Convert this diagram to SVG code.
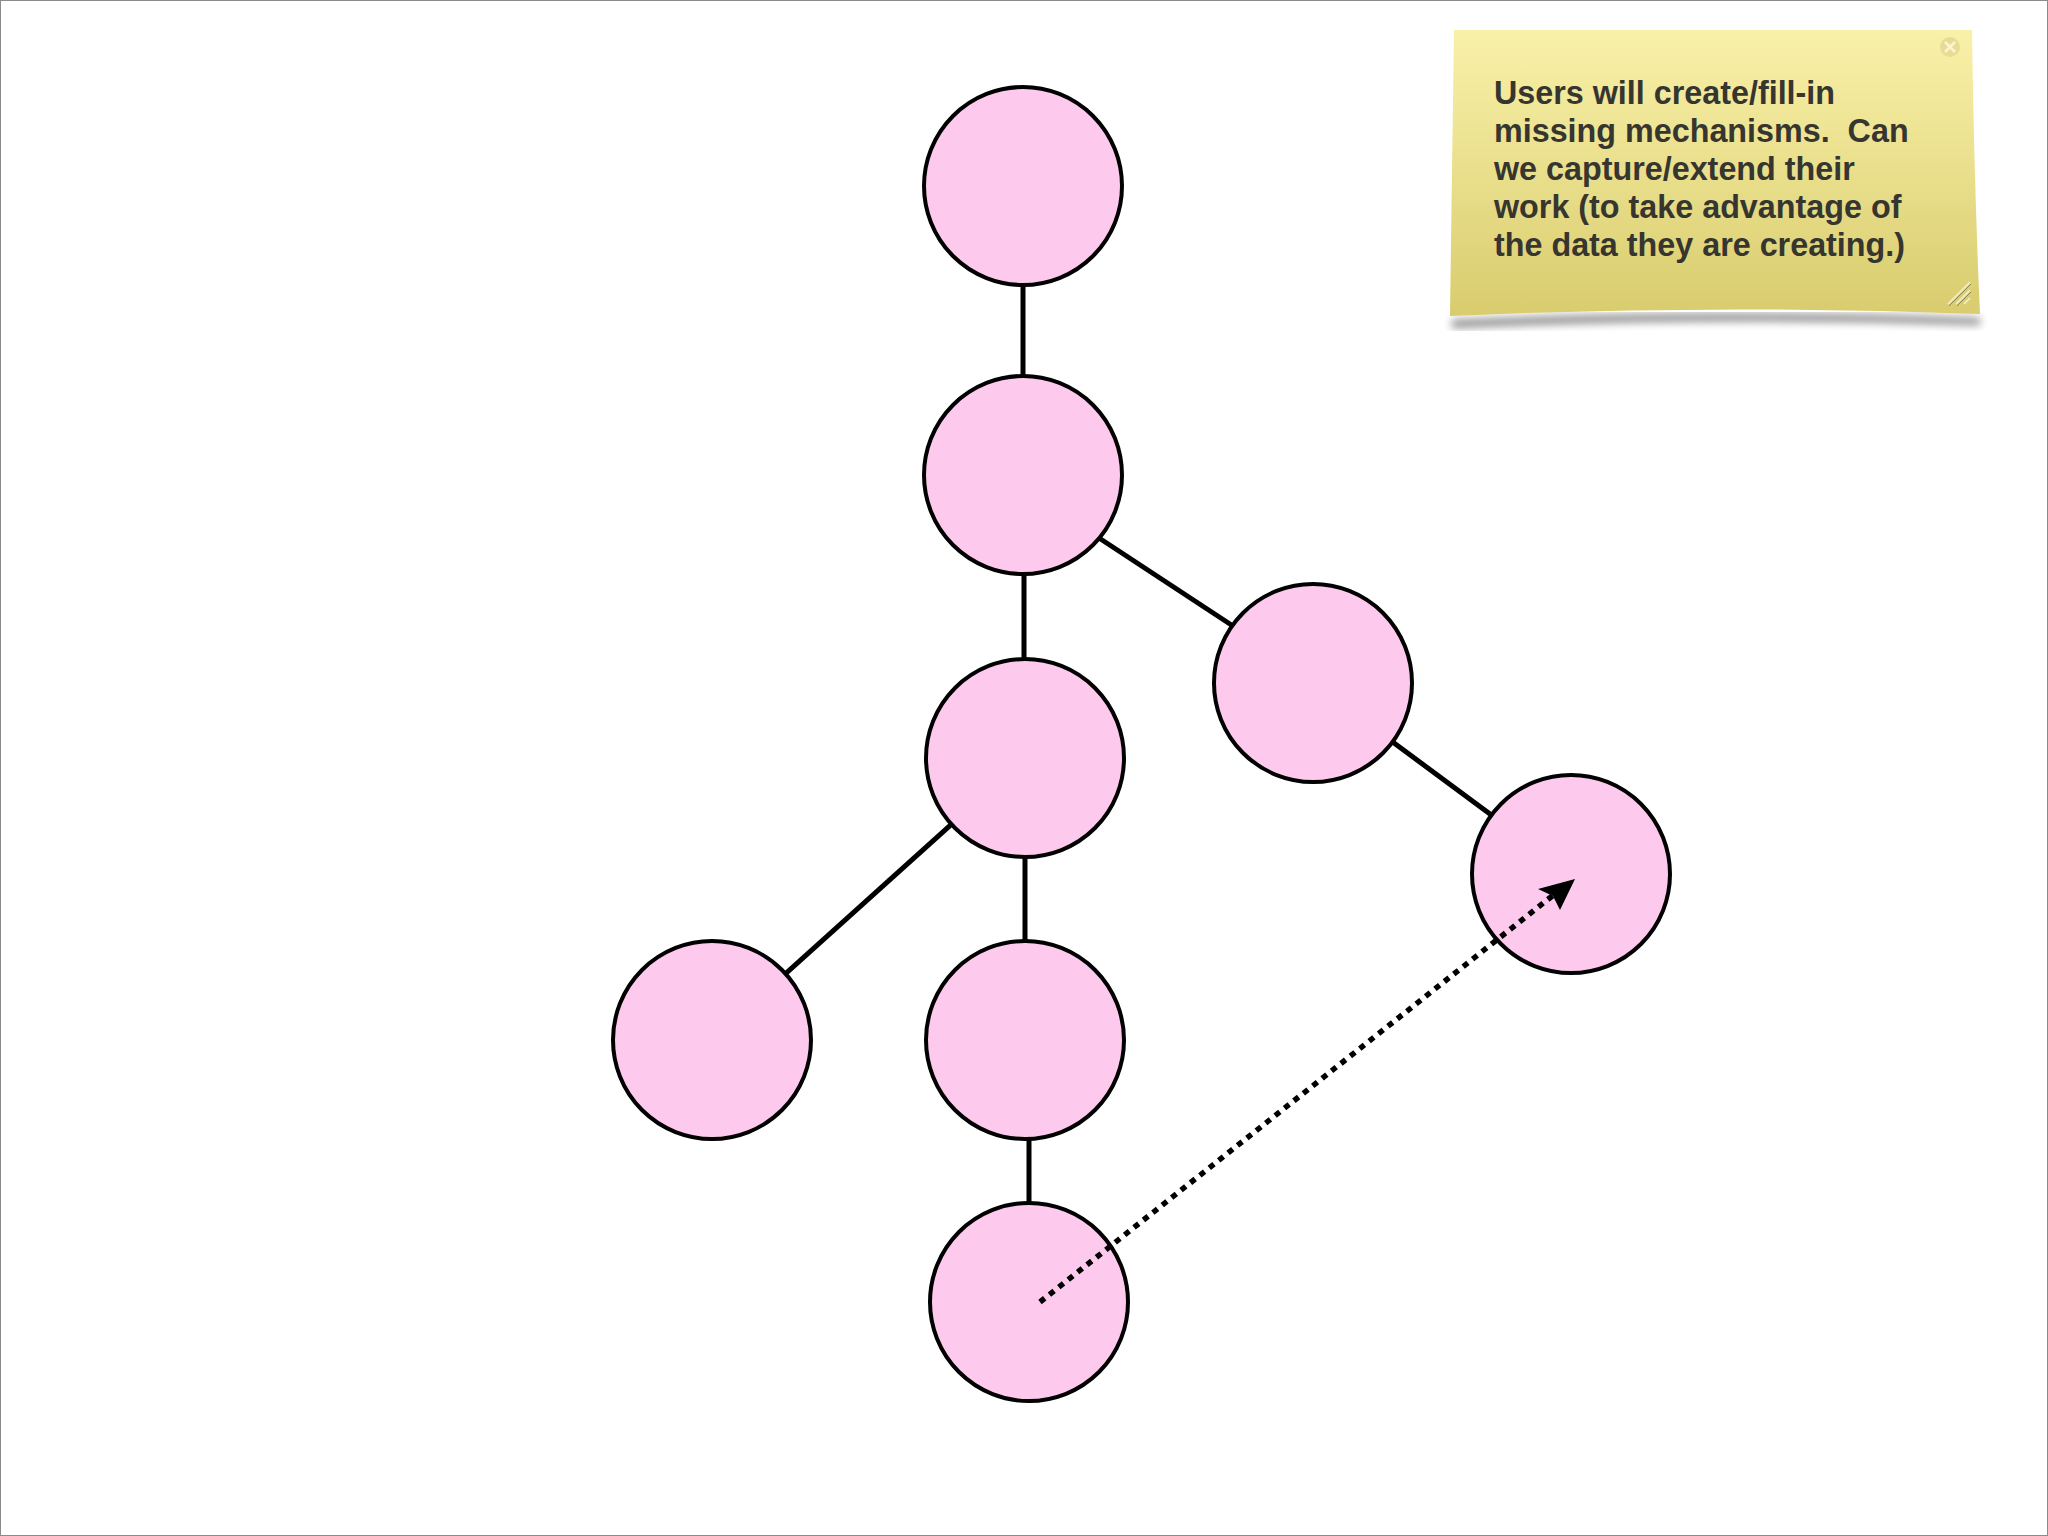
<svg xmlns="http://www.w3.org/2000/svg" width="2048" height="1536" viewBox="0 0 2048 1536">
<style>
.node{fill:#fdcaee;stroke:#000;stroke-width:4}
.edge{stroke:#000;stroke-width:5;fill:none}
.dot{stroke:#000;stroke-width:5.5;fill:none;stroke-dasharray:6 6}
.note{font-family:"Liberation Sans",Arial,sans-serif;font-weight:bold;font-size:32.3px;fill:#36352f;white-space:pre}
</style>
<defs>
<linearGradient id="sg" x1="0" y1="0" x2="0" y2="1">
<stop offset="0" stop-color="#f9f1a9"/>
<stop offset="1" stop-color="#d9cc6e"/>
</linearGradient>
<filter id="sh" x="-10%" y="-10%" width="120%" height="130%">
<feGaussianBlur stdDeviation="4"/>
</filter>
</defs>
<rect x="0.5" y="0.5" width="2047" height="1535" fill="#fff" stroke="#8a8a8a" stroke-width="1"/>
<g id="connectors">
<line class="edge" x1="1023" y1="186" x2="1023" y2="475"/>
<line class="edge" x1="1024" y1="475" x2="1024" y2="758"/>
<line class="edge" x1="1096" y1="536" x2="1236" y2="628"/>
<line class="edge" x1="1313" y1="683" x2="1571" y2="874"/>
<line class="edge" x1="1025" y1="758" x2="712" y2="1040"/>
<line class="edge" x1="1025" y1="758" x2="1025" y2="1040"/>
<line class="edge" x1="1029" y1="1040" x2="1029" y2="1302"/>
</g>
<g id="n1"><circle class="node" cx="1023" cy="186" r="99"/></g>
<g id="n2"><circle class="node" cx="1023" cy="475" r="99"/></g>
<g id="n3"><circle class="node" cx="1025" cy="758" r="99"/></g>
<g id="n4"><circle class="node" cx="1313" cy="683" r="99"/></g>
<g id="n5"><circle class="node" cx="1571" cy="874" r="99"/></g>
<g id="n6"><circle class="node" cx="712" cy="1040" r="99"/></g>
<g id="n7"><circle class="node" cx="1025" cy="1040" r="99"/></g>
<g id="n8"><circle class="node" cx="1029" cy="1302" r="99"/></g>
<g id="arrow">
<line class="dot" x1="1040" y1="1302" x2="1556" y2="893"/>
<polygon points="1575,879 1560,910 1553,896 1538,889" fill="#000"/>
</g>
<g id="sticky">
<path d="M1452,320 Q1715,308 1980,318 L1980,325 Q1715,316 1452,328 Z" fill="#000" opacity="0.45" filter="url(#sh)"/>
<path d="M1454,30 L1972,30 Q1974,180 1980,314 Q1715,304 1450,316 Q1452,170 1454,30 Z" fill="url(#sg)"/>
<circle cx="1950" cy="47" r="10" fill="#e6dc94"/>
<path d="M1945,42 L1955,52 M1955,42 L1945,52" stroke="#fbf6cf" stroke-width="2.5"/>
<path d="M1948,304 L1970,282 M1956,304 L1970,290 M1964,304 L1970,298" stroke="#f5f0d0" stroke-width="1.5"/>
<path d="M1949,306 L1971,284 M1957,306 L1971,292" stroke="#8e8650" stroke-width="1"/>
<text class="note" x="1494" y="104" xml:space="preserve">Users will create/fill-in</text>
<text class="note" x="1494" y="142" xml:space="preserve">missing mechanisms.  Can</text>
<text class="note" x="1494" y="180" xml:space="preserve">we capture/extend their</text>
<text class="note" x="1494" y="218" xml:space="preserve">work (to take advantage of</text>
<text class="note" x="1494" y="256" xml:space="preserve">the data they are creating.)</text>
</g>
</svg>
